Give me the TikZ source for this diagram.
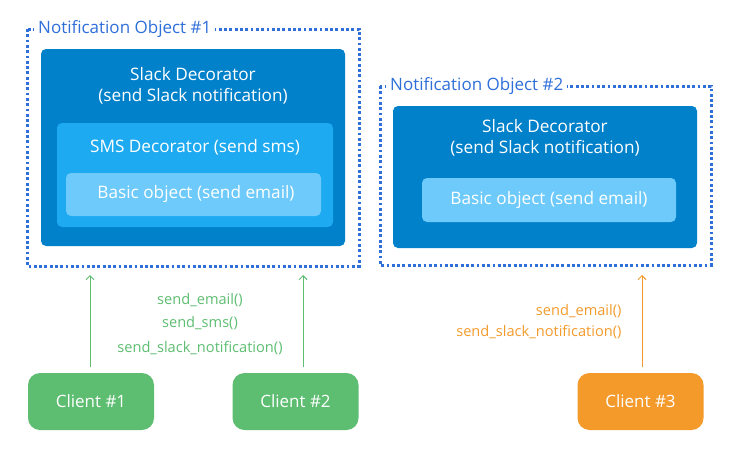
\documentclass[tikz,border=0pt]{standalone}
\usepackage{fontspec}
\setmainfont{Open Sans}
\usetikzlibrary{arrows.meta}
\definecolor{dblue}{HTML}{0081CA}
\definecolor{mblue}{HTML}{1EAAF1}
\definecolor{lblue}{HTML}{6DCAFB}
\definecolor{dotblue}{HTML}{2F6FD9}
\definecolor{cgreen}{HTML}{5DBD71}
\definecolor{corange}{HTML}{F39A2B}
\begin{document}
\begin{tikzpicture}[x=1pt,y=-1pt,
  box/.style={rounded corners=5pt,inner sep=0pt},
  wtext/.style={text=white,font=\fontsize{17.2}{21}\selectfont,align=center},
  dotbox/.style={draw=dotblue,line width=3pt,dash pattern=on 2.8pt off 2.5pt},
  dotlabel/.style={fill=white,text=dotblue,font=\fontsize{17}{19}\selectfont,inner xsep=4pt,inner ysep=1pt,anchor=west},
  client/.style={rounded corners=12pt,text=white,font=\fontsize{17}{19}\selectfont},
  lbl/.style={font=\fontsize{14.6}{16}\selectfont,align=center},
  arr/.style={line width=1pt,-{Straight Barb[length=4pt,width=8pt]}}]
\useasboundingbox (0,0) rectangle (741,455);
% Notification object 1
\draw[dotbox] (27,29) rectangle (359,266);
\node[dotlabel] (n1) at (34,29) {Notification Object \#1};
\fill[dblue,box] (41,49) rectangle (345,246);
\node[wtext] (s1) at (193,86) {Slack Decorator\\(send Slack notification)};
\fill[mblue,box] (57,123) rectangle (333,227);
\node[wtext] (sms) at (195,147) {SMS Decorator (send sms)};
\fill[lblue,box] (66,173) rectangle (321,216);
\node[wtext] (b1) at (196,194) {Basic object (send email)};
% Notification object 2
\draw[dotbox] (380,86) rectangle (711,265);
\node[dotlabel] (n2) at (386,86) {Notification Object \#2};
\fill[dblue,box] (393,106) rectangle (697,248);
\node[wtext] (s2) at (545,138) {Slack Decorator\\(send Slack notification)};
\fill[lblue,box] (422,178) rectangle (676,222);
\node[wtext] (b2) at (549,200) {Basic object (send email)};
% clients
\node[client,fill=cgreen,minimum width=126pt,minimum height=57pt] (c1) at (91,401.5) {Client \#1};
\node[client,fill=cgreen,minimum width=126pt,minimum height=57pt] (c2) at (295.5,401.5) {Client \#2};
\node[client,fill=corange,minimum width=126pt,minimum height=57pt] (c3) at (640.5,401.5) {Client \#3};
\coordinate (t1) at (90,275);
\coordinate (t2) at (303,275);
\coordinate (t3) at (642,275);
\draw[arr,cgreen] (c1.north -| t1) ++(0,-6) -- (t1);
\draw[arr,cgreen] (c2.north -| t2) ++(0,-6) -- (t2);
\draw[arr,corange] (c3.north -| t3) ++(0,-6) -- (t3);
\node[lbl,text=cgreen] (m1) at (200,300) {send\_email()};
\node[lbl,text=cgreen] (m2) at (200,323) {send\_sms()};
\node[lbl,text=cgreen] (m3) at (200,348) {send\_slack\_notification()};
\node[lbl,text=corange,anchor=east] (m4) at (625,311) {send\_email()};
\node[lbl,text=corange,anchor=east] (m5) at (625,332) {send\_slack\_notification()};
\end{tikzpicture}
\end{document}
